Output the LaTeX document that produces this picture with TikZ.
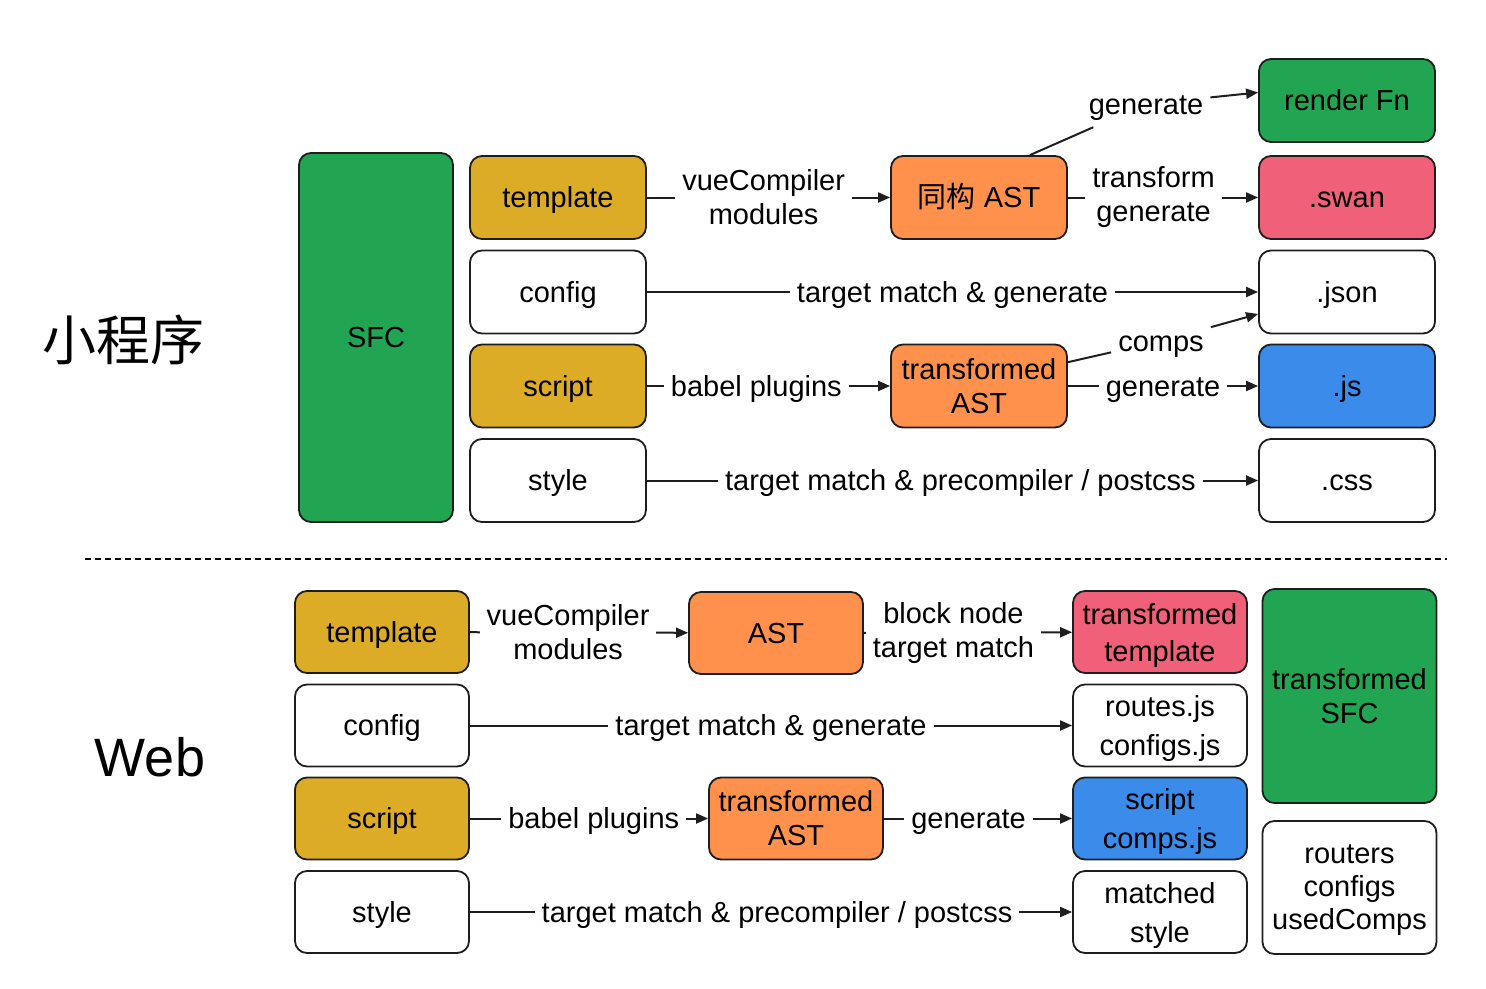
\documentclass[tikz,border=0pt]{standalone}
\usepackage{fontspec}
\setmainfont{Liberation Sans}
\newfontfamily\cjk{Noto Sans CJK SC}
\usetikzlibrary{arrows.meta}
\definecolor{gold}{RGB}{221,172,39}
\definecolor{astorange}{RGB}{255,145,77}
\definecolor{sfcgreen}{RGB}{34,165,83}
\definecolor{swanpink}{RGB}{240,96,120}
\definecolor{jsblue}{RGB}{59,139,235}
\definecolor{edgegray}{RGB}{30,30,30}

\begin{document}
\begin{tikzpicture}[x=1pt, y=-1pt,
    blk/.style={draw=edgegray, line width=1.8pt, rounded corners=12pt, minimum width=176pt, minimum height=83pt, align=center, font=\fontsize{29}{34}\selectfont},
    blkw/.style={blk, minimum width=174pt, minimum height=82pt},
    one/.style={text height=26pt, text depth=6pt},
    lo/.style={text depth=0pt},
    lbl/.style={fill=white, inner sep=7pt, align=center, font=\fontsize{29}{34}\selectfont},
    flow/.style={-{Triangle[length=12pt,width=10pt]}, line width=2pt, draw=edgegray},
    bare/.style={line width=2pt, draw=edgegray}]
    \useasboundingbox (0,0) rectangle (1486,988);

    % Titles
    \node[font=\cjk\fontsize{54}{60}\selectfont] (mp) at (123,340) {小程序};
    \node[font=\fontsize{54}{60}\selectfont] (web) at (150,757) {Web};

    % Mini program: source blocks
    \node[blk, one, fill=sfcgreen, minimum width=154pt, minimum height=369pt] (sfc) at (376,337.5) {SFC};
    \node[blk, one, fill=gold] (ttpl) at (558,197.5) {template};
    \node[blk, one] (tcfg) at (558,292) {config};
    \node[blk, one, fill=gold] (tscr) at (558,386) {script};
    \node[blk, one] (tsty) at (558,480.5) {style};

    % Mini program: ASTs
    \node[blk, one, fill=astorange] (tiso) at (979,197.5) {{\cjk 同构} AST};
    \node[blk, fill=astorange] (ttra) at (979,386) {transformed\\AST};

    % Mini program: outputs
    \node[blk, one, fill=sfcgreen] (rfn) at (1347,100.5) {render Fn};
    \node[blk, one, fill=swanpink] (swan) at (1347,197.5) {.swan};
    \node[blk, one] (json) at (1347,292) {.json};
    \node[blk, one, fill=jsblue] (js) at (1347,386) {.js};
    \node[blk, one] (css) at (1347,480.5) {.css};

    % Mini program: arrows
    \draw[flow] (ttpl) -- node[lbl, pos=0.48]{vueCompiler\\modules} (tiso);
    \draw[flow] (tcfg) -- node[lbl, one]{target match \& generate} (json);
    \draw[flow] (tscr) -- node[lbl, one, pos=0.45]{babel plugins} (ttra);
    \draw[flow] (tsty) -- node[lbl, one, pos=0.513]{target match \& precompiler / postcss} (css);
    \draw[flow] (tiso) -- node[lbl, pos=0.45]{transform\\generate} (swan);
    \draw[flow] (ttra) -- node[lbl, one]{generate} (js);
    \node[lbl, one] (gen) at (1146,104) {generate};
    \draw[bare] ([xshift=-38pt]tiso.north east) -- (gen);
    \draw[flow] (gen) -- ([yshift=8pt]rfn.west);
    \node[lbl, one] (comps) at (1161,341) {comps};
    \draw[bare] (ttra.15) -- (comps);
    \draw[flow] (comps) -- ([yshift=-22pt]json.west);

    % Separator
    \draw[line width=2.4pt, dash pattern=on 6pt off 4pt] (85,559) -- (1447,559);

    % Web: source blocks
    \node[blkw, one, fill=gold] (wtpl) at (382,632) {template};
    \node[blkw, one] (wcfg) at (382,725.5) {config};
    \node[blkw, one, fill=gold] (wscr) at (382,818.5) {script};
    \node[blkw, one] (wsty) at (382,912) {style};

    % Web: ASTs
    \node[blkw, one, fill=astorange] (wast) at (776,633) {AST};
    \node[blkw, fill=astorange] (wtra) at (796,818.5) {transformed\\AST};

    % Web: outputs
    \node[blkw, lo, fill=swanpink] (wttpl) at (1160,632) {transformed\\[3pt]template};
    \node[blkw, lo] (wroute) at (1160,725.5) {routes.js\\[5pt]configs.js};
    \node[blkw, lo, fill=jsblue] (wcomp) at (1160,818.5) {script\\[5pt]comps.js};
    \node[blkw, lo] (wmatch) at (1160,912) {matched\\[5pt]style};
    \node[blkw, fill=sfcgreen, minimum height=214pt] (wsfc) at (1349.5,696) {transformed\\SFC};
    \node[blkw, lo, minimum height=133pt] (wmeta) at (1349.5,887.5) {routers\\[-1pt]configs\\[-1pt]usedComps};

    % Web: arrows
    \draw[flow] (wtpl) -- node[lbl, pos=0.45]{vueCompiler\\modules} (wast);
    \draw[flow] (wast) -- node[lbl, pos=0.43]{block node\\target match} (wttpl);
    \draw[flow] (wcfg) -- node[lbl, one]{target match \& generate} (wroute);
    \draw[flow] (wscr) -- node[lbl, one, pos=0.52]{babel plugins} (wtra);
    \draw[flow] (wtra) -- node[lbl, one, pos=0.45]{generate} (wcomp);
    \draw[flow] (wsty) -- node[lbl, one, pos=0.51]{target match \& precompiler / postcss} (wmatch);
\end{tikzpicture}
\end{document}
